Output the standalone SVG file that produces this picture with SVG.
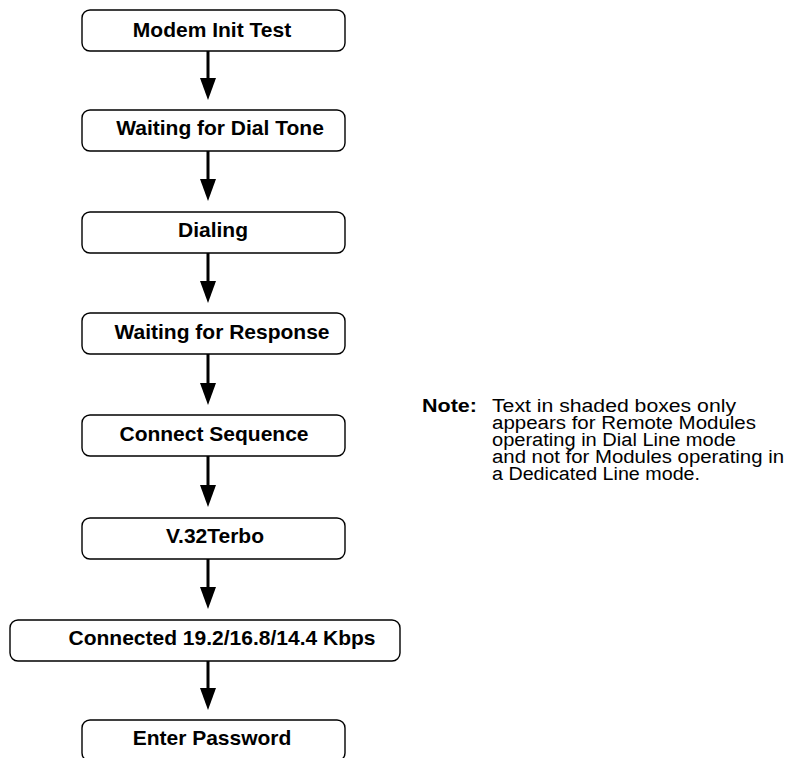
<svg xmlns="http://www.w3.org/2000/svg" width="790" height="758" viewBox="0 0 790 758">
<style>
.box{fill:#fff;stroke:#000;stroke-width:1.4}
.lbl{font-family:"Liberation Sans",Arial,sans-serif;font-weight:bold;font-size:21px;fill:#000;text-anchor:middle}
.note{font-family:"Liberation Sans",Arial,sans-serif;font-size:18px;fill:#000}
.noteb{font-weight:bold}
.conn{stroke:#000;stroke-width:3;fill:none;marker-end:url(#ah)}
</style>
<defs>
<marker id="ah" viewBox="0 0 22 16" markerWidth="22" markerHeight="16" refX="12" refY="8" orient="auto" markerUnits="userSpaceOnUse">
<path d="M0,0 L22,8 L0,16 z" fill="#000"/>
</marker>
</defs>
<rect width="790" height="758" fill="#fff"/>
<g id="connectors">
<line class="conn" x1="208" y1="51" x2="208" y2="90"/>
<line class="conn" x1="208" y1="151" x2="208" y2="191"/>
<line class="conn" x1="208" y1="253" x2="208" y2="293"/>
<line class="conn" x1="208" y1="354" x2="208" y2="395"/>
<line class="conn" x1="208" y1="456" x2="208" y2="497"/>
<line class="conn" x1="208" y1="559" x2="208" y2="599"/>
<line class="conn" x1="208" y1="661" x2="208" y2="700"/>
</g>
<g id="n1"><rect class="box" x="82" y="10" width="263" height="41" rx="8"/><text class="lbl" x="212" y="37">Modem Init Test</text></g>
<g id="n2"><rect class="box" x="82" y="110" width="263" height="41" rx="8"/><text class="lbl" x="220" y="135">Waiting for Dial Tone</text></g>
<g id="n3"><rect class="box" x="82" y="212" width="263" height="41" rx="8"/><text class="lbl" x="213" y="237">Dialing</text></g>
<g id="n4"><rect class="box" x="82" y="313" width="263" height="41" rx="8"/><text class="lbl" x="222" y="339">Waiting for Response</text></g>
<g id="n5"><rect class="box" x="82" y="415" width="263" height="41" rx="8"/><text class="lbl" x="214" y="441">Connect Sequence</text></g>
<g id="n6"><rect class="box" x="82" y="518" width="263" height="41" rx="8"/><text class="lbl" x="215" y="543">V.32Terbo</text></g>
<g id="n7"><rect class="box" x="10" y="620" width="390" height="41" rx="8"/><text class="lbl" x="222" y="645">Connected 19.2/16.8/14.4 Kbps</text></g>
<g id="n8"><rect class="box" x="82" y="720" width="263" height="41" rx="8"/><text class="lbl" x="212" y="745">Enter Password</text></g>
<g id="note">
<text class="note noteb" x="422" y="412" textLength="55" lengthAdjust="spacingAndGlyphs">Note:</text>
<text class="note" x="492" y="412" textLength="244" lengthAdjust="spacingAndGlyphs">Text in shaded boxes only</text>
<text class="note" x="492" y="429" textLength="264" lengthAdjust="spacingAndGlyphs">appears for Remote Modules</text>
<text class="note" x="492" y="446" textLength="244" lengthAdjust="spacingAndGlyphs">operating in Dial Line mode</text>
<text class="note" x="492" y="463" textLength="292" lengthAdjust="spacingAndGlyphs">and not for Modules operating in</text>
<text class="note" x="492" y="480" textLength="208" lengthAdjust="spacingAndGlyphs">a Dedicated Line mode.</text>
</g>
</svg>
